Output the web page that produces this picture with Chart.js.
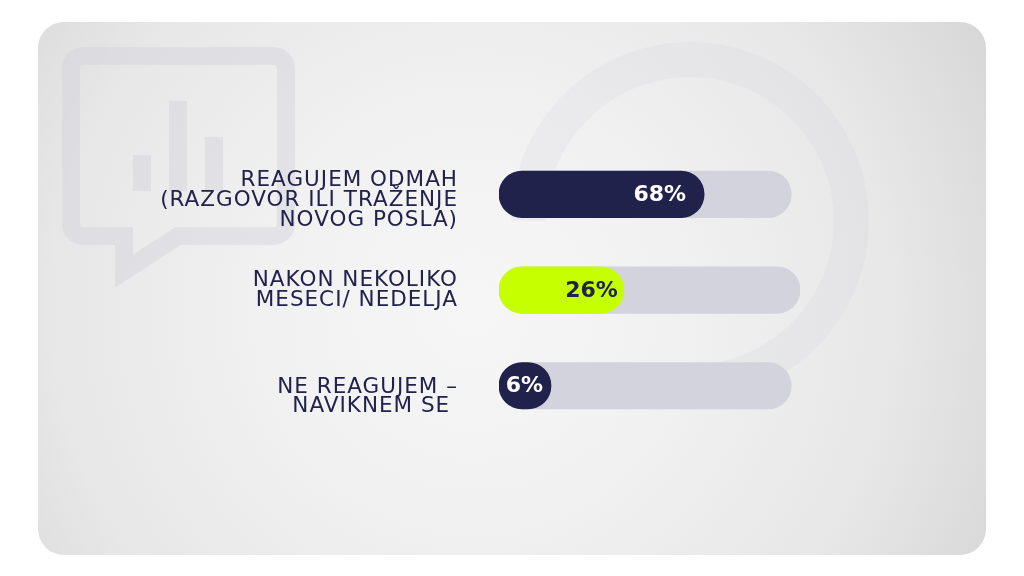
<!DOCTYPE html>
<html>
<head>
<meta charset="utf-8">
<title>Reagovanje</title>
<script src="https://cdn.jsdelivr.net/npm/chart.js@4"></script>
<style>
  html, body { margin: 0; padding: 0; background: #fff; }
  #stage { position: relative; width: 1024px; height: 576px; overflow: hidden; }
  #card {
    position: absolute; left: 38px; top: 22px; width: 948px; height: 533px; border-radius: 26px;
    background: radial-gradient(circle at 46% 54%, #f6f6f6 0%, #f1f1f1 35%, #e7e7e7 72%, #d7d7d7 100%);
  }
  #deco { position: absolute; left: 0; top: 0; }
  canvas { position: absolute; left: 0; top: 0; }
</style>
</head>
<body>
<div id="stage">
  <div id="card"></div>
  <!-- pozadinske ikonice -->
  <svg id="deco" width="1024" height="576" fill="none">
    <path d="M528.5 221 A161.5 161.5 0 1 1 718 380" stroke="#d2d3dc" stroke-opacity=".2" stroke-width="35"/>
    <path d="M85 56 H272 Q286 56 286 70 V222 Q286 236 272 236 H178 L124 271 V236 H85 Q71 236 71 222 V70 Q71 56 85 56 Z"
      stroke="#d2d3dc" stroke-opacity=".45" stroke-width="18"/>
    <g fill="#d2d3dc" fill-opacity=".45">
      <rect x="133" y="155" width="18" height="36"/>
      <rect x="169" y="101" width="18" height="90"/>
      <rect x="205" y="137" width="18" height="54"/>
    </g>
  </svg>
  <canvas id="chart" width="1024" height="576"></canvas>
</div>
<script>
const categories = [
  ['REAGUJEM ODMAH', '(RAZGOVOR ILI TRAŽENJE', 'NOVOG POSLA)'],
  ['NAKON NEKOLIKO', 'MESECI/ NEDELJA'],
  ['NE REAGUJEM –', 'NAVIKNEM SE ']
];
// printed percentages
const percentLabels = ['68%', '26%', '6%'];
// in the picture the bars are not to scale with the printed numbers,
// so these are the drawn lengths, read as % of the short grey track
const fillLengths = [70.2, 42.7, 17.8];
const trackLengths = [100, 103, 100];

const navy = '#20224b';
const fillColors = [navy, '#c6ff00', navy];
const labelColors = ['#ffffff', navy, '#ffffff'];
const labelInset = [18, 6, 8];
// text blocks do not sit exactly on the bar centres
const blockShift = [6, 0.5, 11];

const textFont = '400 21.5px "DejaVu Sans"';
const lineGap = 19.6;

const barText = {
  id: 'barText',
  afterDatasetsDraw(chart) {
    const ctx = chart.ctx;
    const bars = chart.getDatasetMeta(0).data;
    const yScale = chart.scales.y;
    ctx.save();
    ctx.textAlign = 'right';
    ctx.textBaseline = 'middle';

    // category labels
    ctx.font = textFont;
    ctx.letterSpacing = '1px';
    ctx.fillStyle = navy;
    categories.forEach((lines, i) => {
      const mid = yScale.getPixelForTick(i) + blockShift[i];
      lines.forEach((line, k) => {
        ctx.fillText(line, chart.chartArea.left - 41, mid + (k - (lines.length - 1) / 2) * lineGap);
      });
    });

    // percentages
    ctx.letterSpacing = '0px';
    ctx.font = '700 22px "DejaVu Sans"';
    bars.forEach((bar, i) => {
      ctx.fillStyle = labelColors[i];
      ctx.fillText(percentLabels[i], bar.x - labelInset[i], bar.y + 1);
    });
    ctx.restore();
  }
};

new Chart(document.querySelector('#chart'), {
  type: 'bar',
  data: {
    labels: categories,
    datasets: [
      {
        data: fillLengths,
        backgroundColor: fillColors,
        barThickness: 46.5,
        borderRadius: 23.25,
        borderSkipped: false,
        grouped: false
      },
      {
        data: trackLengths,
        backgroundColor: '#d2d3dc',
        barThickness: 46.5,
        borderRadius: 23.25,
        borderSkipped: false,
        grouped: false
      }
    ]
  },
  options: {
    indexAxis: 'y',
    responsive: false,
    animation: false,
    layout: { padding: { top: 146.5, bottom: 142.4, left: 0, right: 224 } },
    plugins: { legend: { display: false }, tooltip: { enabled: false } },
    scales: {
      x: { display: false, min: 0, max: 103 },
      y: {
        afterFit(scale) { scale.width = 499; },
        grid: { display: false, drawTicks: false },
        border: { display: false },
        ticks: { display: false }
      }
    }
  },
  plugins: [barText]
});
</script>
</body>
</html>
